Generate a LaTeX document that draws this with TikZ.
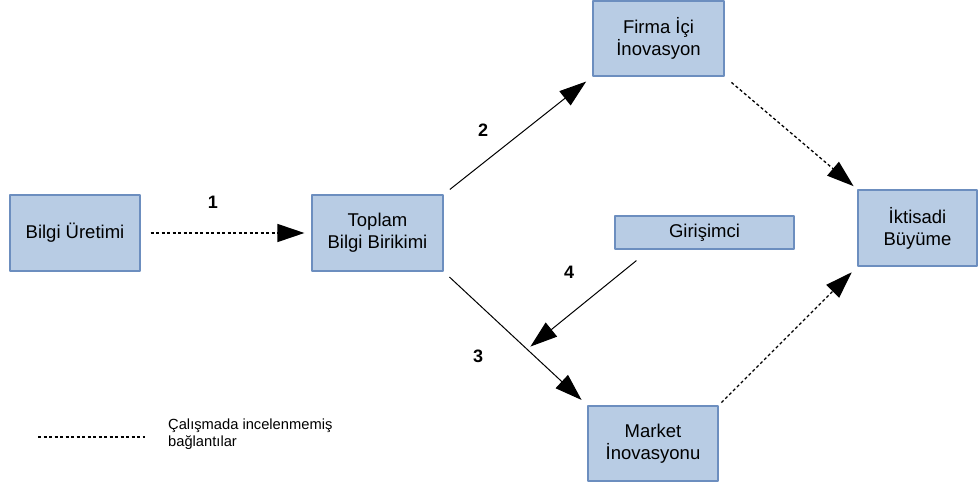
\documentclass[tikz,border=0pt]{standalone}
\usepackage{fontspec}
\setmainfont{Liberation Sans}
\usetikzlibrary{arrows.meta,calc}
\definecolor{boxfill}{RGB}{184,204,228}
\definecolor{boxdraw}{RGB}{108,142,191}
\tikzset{
  box/.style={draw=boxdraw,fill=boxfill,line width=1.2pt,align=center,inner sep=0pt,
    font=\fontsize{18.5}{22}\selectfont},
  link/.style={line width=1pt,-{Triangle[length=27pt,width=18pt]}},
  hidden/.style={link,line width=1.3pt,dash pattern=on 3pt off 2.5pt},
  num/.style={font=\fontsize{18}{20}\selectfont\bfseries}
}

\begin{document}
\begin{tikzpicture}[line join=round,x=1pt,y=-1pt]
    \useasboundingbox (0,0) rectangle (980,486);
    \draw(75,233) node[box,minimum width=130,minimum height=76] (uretim) {Bilgi Üretimi};
    \draw(377.5,233) node[box,minimum width=131,minimum height=76] (toplam) {Toplam\\Bilgi Birikimi};
    \draw(658.5,38.5) node[box,minimum width=131,minimum height=75] (firma) {Firma İçi\\İnovasyon};
    \draw(704.5,232.5) node[box,minimum width=179,minimum height=33] (girisim) {Girişimci};
    \draw(917.5,228) node[box,minimum width=119,minimum height=76] (iktisat) {İktisadi\\Büyüme};
    \draw(653,443.5) node[box,minimum width=130,minimum height=75] (market) {Market\\İnovasyonu};

    % Edges
    \foreach \source/\target in {toplam.north east/firma.south west, toplam.south east/market.north west} {
            \draw[link,shorten <=8pt,shorten >=8pt] (\source) -- (\target);
        }
    \draw[hidden,shorten <=10pt,shorten >=7pt] (uretim) -- (toplam);
    \draw[hidden,shorten <=9pt,shorten >=5pt] (firma.south east) -- (iktisat.north west);
    \draw[hidden,shorten <=4pt,shorten >=8pt] (market.north east) -- (iktisat.south west);
    \draw[link] ($(girisim.south west)+(22,11)$) -- ($(toplam.south east)!0.59!(market.north west)+(2,-4)$);

    \draw(213,202) node[num] (n1) {1};
    \draw(483,130) node[num] (n2) {2};
    \draw(478,356) node[num] (n3) {3};
    \draw(569,272) node[num] (n4) {4};

    % legend
    \coordinate (legA) at (38,437);
    \coordinate (legB) at (145,437);
    \draw[line width=1.3pt,dash pattern=on 3pt off 2.5pt] (legA) -- (legB);
    \draw(168,434) node[anchor=west,align=left,inner sep=0pt,font=\fontsize{14.7}{16.5}\selectfont] (legtext) {Çalışmada incelenmemiş\\bağlantılar};
\end{tikzpicture}
\end{document}
